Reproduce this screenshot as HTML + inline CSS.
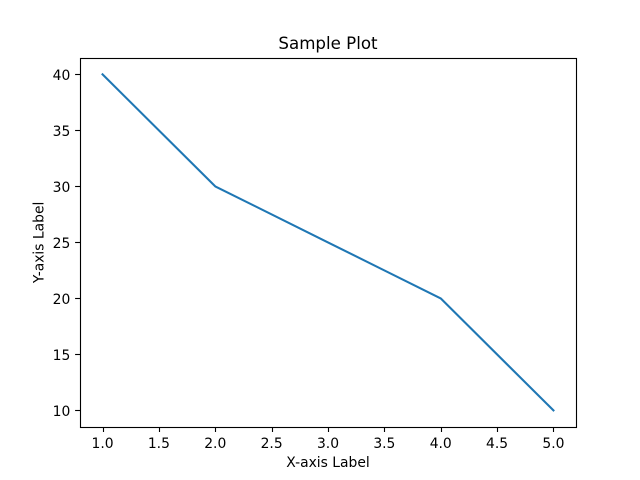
<!DOCTYPE html>
<html>
<head>
<meta charset="utf-8">
<style>
html,body{margin:0;padding:0;background:#fff;}
svg{display:block;}
text{font-family:"DejaVu Sans",sans-serif;fill:#000;}
</style>
</head>
<body>
<svg id="chart" xmlns="http://www.w3.org/2000/svg" width="640" height="480" viewBox="0 0 640 480">
<rect x="0" y="0" width="640" height="480" fill="#ffffff"/>
<text x="328" y="49" font-size="16.67" text-anchor="middle">Sample Plot</text>
<text x="328" y="467" font-size="13.89" text-anchor="middle">X-axis Label</text>
<text x="0" y="0" font-size="13.89" text-anchor="middle" transform="translate(43.5 242.4) rotate(-90)">Y-axis Label</text>
<g id="ticks"></g>
<polyline id="series" fill="none" stroke="#1f77b4" stroke-width="2.08" stroke-linejoin="round" stroke-linecap="square"/>
<rect x="80.5" y="58.5" width="496" height="369" fill="none" stroke="#000" stroke-width="1.11"/>
</svg>
<script>
const xValues = [1, 2, 3, 4, 5];
const yValues = [40, 30, 25, 20, 10];
const xTickLabels = ["1.0", "1.5", "2.0", "2.5", "3.0", "3.5", "4.0", "4.5", "5.0"];
const yTickLabels = ["10", "15", "20", "25", "30", "35", "40"];

const NS = "http://www.w3.org/2000/svg";
const plot = { left: 80, right: 576, top: 57.6, bottom: 427.2 };
const xMin = Math.min(...xValues), xMax = Math.max(...xValues);
const yMin = Math.min(...yValues), yMax = Math.max(...yValues);
const xPad = (xMax - xMin) * 0.05, yPad = (yMax - yMin) * 0.05;

function xScale(v) {
  return plot.left + (v - (xMin - xPad)) / (xMax - xMin + 2 * xPad) * (plot.right - plot.left);
}
function yScale(v) {
  return plot.bottom - (v - (yMin - yPad)) / (yMax - yMin + 2 * yPad) * (plot.bottom - plot.top);
}
function snap(v) {
  return Math.floor(v + 0.5) + 0.5;
}

const tickGroup = document.getElementById("ticks");

xTickLabels.forEach(function (label) {
  const px = xScale(parseFloat(label));
  const tick = document.createElementNS(NS, "line");
  
  
  tick.setAttribute("x1", snap(px));
  tick.setAttribute("x2", snap(px));
  tick.setAttribute("y1", 427.5);
  tick.setAttribute("y2", 432);
  tick.setAttribute("stroke", "#000");
  tick.setAttribute("stroke-width", "1.11");
  tickGroup.appendChild(tick);
  const text = document.createElementNS(NS, "text");
  
  
  text.setAttribute("x", px);
  text.setAttribute("y", 448);
  text.setAttribute("font-size", "13.89");
  text.setAttribute("text-anchor", "middle");
  text.textContent = label;
  tickGroup.appendChild(text);
});

yTickLabels.forEach(function (label) {
  const py = yScale(parseFloat(label));
  const tick = document.createElementNS(NS, "line");
  
  
  tick.setAttribute("x1", 75.1);
  tick.setAttribute("x2", 80.5);
  tick.setAttribute("y1", snap(py));
  tick.setAttribute("y2", snap(py));
  tick.setAttribute("stroke", "#000");
  tick.setAttribute("stroke-width", "1.11");
  tickGroup.appendChild(tick);
  const text = document.createElementNS(NS, "text");
  
  
  text.setAttribute("x", 70.3);
  text.setAttribute("y", Math.round(py + 5.6));
  text.setAttribute("font-size", "13.89");
  text.setAttribute("text-anchor", "end");
  text.textContent = label;
  tickGroup.appendChild(text);
});

document.getElementById("series").setAttribute(
  "points",
  xValues.map(function (x, i) { return xScale(x) + "," + yScale(yValues[i]); }).join(" ")
);
</script>
</body>
</html>
